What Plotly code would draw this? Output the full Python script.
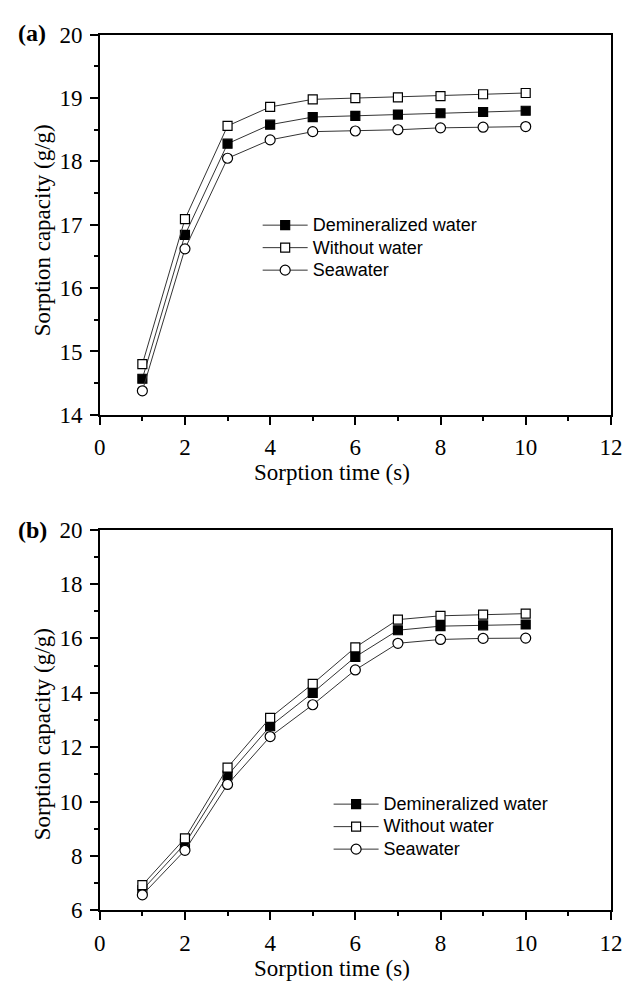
import plotly.graph_objects as go

W, H = 636, 989

# ---------------- data ----------------
time_s = [1, 2, 3, 4, 5, 6, 7, 8, 9, 10]

a_demineralized = [14.57, 16.84, 18.28, 18.58, 18.70, 18.72, 18.74, 18.76, 18.78, 18.80]
a_without = [14.80, 17.09, 18.56, 18.86, 18.98, 19.00, 19.01, 19.03, 19.06, 19.08]
a_seawater = [14.38, 16.62, 18.05, 18.34, 18.47, 18.48, 18.50, 18.53, 18.54, 18.55]

b_demineralized = [6.75, 8.45, 10.96, 12.77, 14.00, 15.32, 16.30, 16.45, 16.48, 16.51]
b_without = [6.93, 8.65, 11.25, 13.08, 14.33, 15.67, 16.69, 16.83, 16.87, 16.91]
b_seawater = [6.57, 8.21, 10.63, 12.39, 13.56, 14.84, 15.82, 15.96, 16.00, 16.01]

series_names = ["Demineralized water", "Without water", "Seawater"]
x_ticks = [0, 2, 4, 6, 8, 10, 12]
a_y_ticks = [14, 15, 16, 17, 18, 19, 20]
b_y_ticks = [6, 8, 10, 12, 14, 16, 18, 20]
x_title = "Sorption time (s)"
y_title = "Sorption capacity (g/g)"
panel_labels = ["(a)", "(b)"]

# ---------------- styles ----------------
LINE_COLOR = "#333333"
styles = [
    dict(symbol="square", color="black", line=dict(color="black", width=1.2), size=9),
    dict(symbol="square", color="white", line=dict(color="black", width=1.2), size=9),
    dict(symbol="circle", color="white", line=dict(color="black", width=1.2), size=10),
]

SERIF = "Liberation Serif, Times New Roman, serif"
SANS = "Liberation Sans, Arial, sans-serif"


def px_x(p):
    return p / W


def px_y(p):
    return 1 - p / H


fig = go.Figure()

panels = [
    ([a_demineralized, a_without, a_seawater], "x", "y", "legend"),
    ([b_demineralized, b_without, b_seawater], "x2", "y2", "legend2"),
]
for vals, xa, ya, lg in panels:
    for name, v, st in zip(series_names, vals, styles):
        fig.add_trace(go.Scatter(
            x=time_s, y=v, name='<span style="font-size:18px">%s</span>' % name,
            mode="lines+markers",
            line=dict(color=LINE_COLOR, width=1),
            marker=st, xaxis=xa, yaxis=ya, legend=lg,
        ))

x_dom = [px_x(96.5), px_x(622.5)]
a_dom = [px_y(413.3), px_y(23.3)]
b_dom = [px_y(921.7), px_y(531)]

axis_common = dict(
    showline=True, linecolor="black", linewidth=1.5, mirror=True,
    ticks="outside", ticklen=8, tickwidth=1.5, tickcolor="black",
    showgrid=False, zeroline=False, ticklabelstandoff=3,
    tickfont=dict(family=SERIF, size=23, color="black"),
)

def xaxis(anchor, tickvals):
    return dict(axis_common, domain=x_dom, range=[0, 12], anchor=anchor,
                tickmode="array", tickvals=tickvals,
                minor=dict(ticks="outside", ticklen=4, tickwidth=1.5,
                           tickcolor="black", dtick=1, tick0=0))

def yaxis(anchor, dom, rng, tickvals, minor_dtick):
    return dict(axis_common, domain=dom, range=rng, anchor=anchor,
                tickmode="array", tickvals=tickvals,
                minor=dict(ticks="outside", ticklen=4, tickwidth=1.5,
                           tickcolor="black", dtick=minor_dtick, tick0=0))

legend_common = dict(
    font=dict(family=SANS, size=15, color="black"),
    bgcolor="rgba(0,0,0,0)", borderwidth=0, xanchor="left", yanchor="top",
    tracegroupgap=0, itemwidth=45,
)

fig.update_layout(
    width=W, height=H,
    margin=dict(l=0, r=0, t=0, b=0),
    paper_bgcolor="white", plot_bgcolor="white",
    showlegend=True,
    xaxis=xaxis("y", x_ticks),
    yaxis=yaxis("x", a_dom, [14, 20], a_y_ticks, 0.5),
    xaxis2=xaxis("y2", x_ticks),
    yaxis2=yaxis("x2", b_dom, [6, 20], b_y_ticks, 1),
    legend=dict(legend_common, x=px_x(259), y=px_y(202)),
    legend2=dict(legend_common, x=px_x(332), y=px_y(796)),
)

annots = []
for ycen in [472, 981]:
    annots.append(dict(text=x_title, x=px_x(335), y=px_y(ycen), xref="paper", yref="paper",
                       showarrow=False, xanchor="center", yanchor="middle",
                       font=dict(family=SERIF, size=23, color="black")))
for ycen in [224, 741]:
    annots.append(dict(text=y_title, x=px_x(37), y=px_y(ycen), xref="paper", yref="paper",
                       showarrow=False, xanchor="center", yanchor="middle", textangle=-90,
                       font=dict(family=SERIF, size=23, color="black")))
for lab, ycen in zip(panel_labels, [22, 531]):
    annots.append(dict(text="<b>%s</b>" % lab, x=px_x(27), y=px_y(ycen), xref="paper", yref="paper",
                       showarrow=False, xanchor="center", yanchor="middle",
                       font=dict(family=SERIF, size=24, color="black")))
fig.update_layout(annotations=annots)

fig.write_html("out.html")
